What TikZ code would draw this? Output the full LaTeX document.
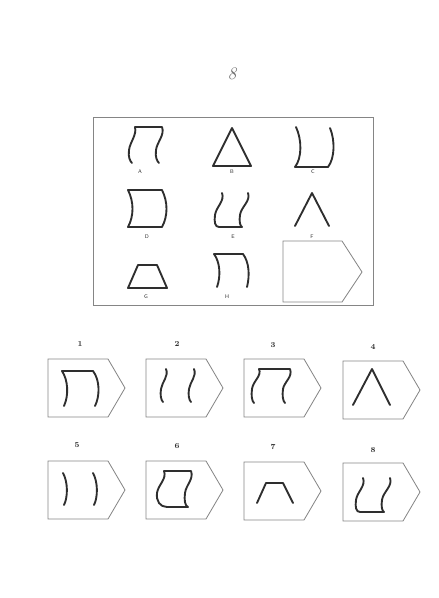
\documentclass[tikz,border=0pt]{standalone}
\usepackage{xcolor}
\definecolor{ink}{HTML}{2E2E2E}
\definecolor{rule}{HTML}{858585}

\begin{document}
\begin{tikzpicture}[x=0.03cm,y=-0.03cm,
    figline/.style={draw=ink,line width=1.6pt,line cap=round,line join=round},
    box/.style={draw=rule,line width=0.7pt,line join=miter},
    tag/.style={font=\fontsize{4.5}{5}\selectfont\sffamily,text=ink},
    num/.style={font=\fontsize{6.5}{7}\selectfont\bfseries,text=ink}]
    \useasboundingbox (0,0) rectangle (438,598);
    % page number
    \node[font=\fontsize{15}{15}\selectfont\itshape,text=gray!85!black] (page) at (232,74) {8};
    % matrix frame
    \draw[box] (93,117) rectangle (373,305);
    % A
    \draw[figline] (132,163) .. controls (130,161) and (128,157) .. (129,150)
        .. controls (130,142) and (137,135) .. (135,127) -- (162,127)
        .. controls (165,135) and (157,142) .. (156,150)
        .. controls (155,157) and (157,161) .. (159,163);
    \node[tag] (lblA) at (140,172) {A};
    % B
    \draw[figline] (232,128) -- (251,166) -- (213,166) -- cycle;
    \node[tag] (lblB) at (232,172) {B};
    % C
    \draw[figline] (296,127) .. controls (302,140) and (302,158) .. (295,167) -- (328,167)
        .. controls (335,158) and (335,140) .. (330,128);
    \node[tag] (lblC) at (313,172) {C};
    % D
    \draw[figline] (128,190) -- (162,190) .. controls (168,202) and (168,216) .. (162,227)
        -- (128,227) .. controls (134,216) and (134,202) .. (128,190) -- cycle;
    \node[tag] (lblD) at (147,237) {D};
    % E
    \draw[figline] (222,193) .. controls (225,201) and (216,207) .. (215,215)
        .. controls (214,222) and (215,227) .. (219,227) -- (242,227)
        .. controls (240,226) and (239,221) .. (240,215)
        .. controls (241,207) and (251,201) .. (248,193);
    \node[tag] (lblE) at (233,237) {E};
    % F
    \draw[figline] (295,226) -- (312,193) -- (329,226);
    \node[tag] (lblF) at (312,237) {F};
    % G
    \draw[figline] (138,265) -- (157,265) -- (167,288) -- (128,288) -- cycle;
    \node[tag] (lblG) at (146,297) {G};
    % H
    \draw[figline] (217,287) .. controls (221,276) and (220,262) .. (214,254) -- (243,254)
        .. controls (249,262) and (250,275) .. (247,287);
    \node[tag] (lblH) at (227,297) {H};
    % empty cell
    \draw[box] (283,241) -- (342,241) -- (362,272) -- (342,302) -- (283,302) -- cycle;

    % answer boxes, first row
    \draw[box] (48,359) -- (108,359) -- (125,388) -- (108,417) -- (48,417) -- cycle;
    \draw[box] (146,359) -- (206,359) -- (223,388) -- (206,417) -- (146,417) -- cycle;
    \draw[box] (244,359) -- (304,359) -- (321,388) -- (304,417) -- (244,417) -- cycle;
    \draw[box] (343,361) -- (403,361) -- (420,390) -- (403,419) -- (343,419) -- cycle;
    \node[num] (num1) at (80,344) {1};
    \node[num] (num2) at (177,344) {2};
    \node[num] (num3) at (273,345) {3};
    \node[num] (num4) at (373,347) {4};
    % answer 1
    \draw[figline] (64,406) .. controls (69,395) and (68,380) .. (62,371) -- (93,371)
        .. controls (100,380) and (100,396) .. (95,406);
    % answer 2
    \draw[figline] (166,369) .. controls (169,376) and (162,382) .. (161,389)
        .. controls (160,395) and (161,400) .. (163,402);
    \draw[figline] (194,369) .. controls (197,376) and (190,382) .. (189,389)
        .. controls (188,395) and (189,400) .. (191,402);
    % answer 3
    \draw[figline] (254,403) .. controls (252,401) and (251,396) .. (252,389)
        .. controls (253,381) and (262,376) .. (259,369) -- (290,369)
        .. controls (293,377) and (284,382) .. (283,389)
        .. controls (282,396) and (283,401) .. (285,403);
    % answer 4
    \draw[figline] (353,405) -- (372,369) -- (390,405);

    % answer boxes, second row
    \draw[box] (48,461) -- (108,461) -- (125,490) -- (108,519) -- (48,519) -- cycle;
    \draw[box] (146,461) -- (206,461) -- (223,490) -- (206,519) -- (146,519) -- cycle;
    \draw[box] (244,462) -- (304,462) -- (321,491) -- (304,520) -- (244,520) -- cycle;
    \draw[box] (343,463) -- (403,463) -- (420,492) -- (403,521) -- (343,521) -- cycle;
    \node[num] (num5) at (77,445) {5};
    \node[num] (num6) at (177,446) {6};
    \node[num] (num7) at (273,447) {7};
    \node[num] (num8) at (373,450) {8};
    % answer 5
    \draw[figline] (63,473) .. controls (68,482) and (68,497) .. (64,505);
    \draw[figline] (93,473) .. controls (98,482) and (98,497) .. (94,505);
    % answer 6
    \draw[figline] (164,471) -- (191,471) .. controls (194,479) and (186,485) .. (185,493)
        .. controls (184,500) and (185,506) .. (188,507) -- (167,507)
        .. controls (160,507) and (156,501) .. (157,493)
        .. controls (158,485) and (167,479) .. (164,471) -- cycle;
    % answer 7
    \draw[figline] (257,503) -- (266,483) -- (283,483) -- (293,503);
    % answer 8
    \draw[figline] (363,478) .. controls (366,486) and (357,492) .. (356,500)
        .. controls (355,507) and (356,512) .. (360,512) -- (384,512)
        .. controls (382,511) and (381,506) .. (382,500)
        .. controls (383,492) and (393,486) .. (390,478);
\end{tikzpicture}
\end{document}
